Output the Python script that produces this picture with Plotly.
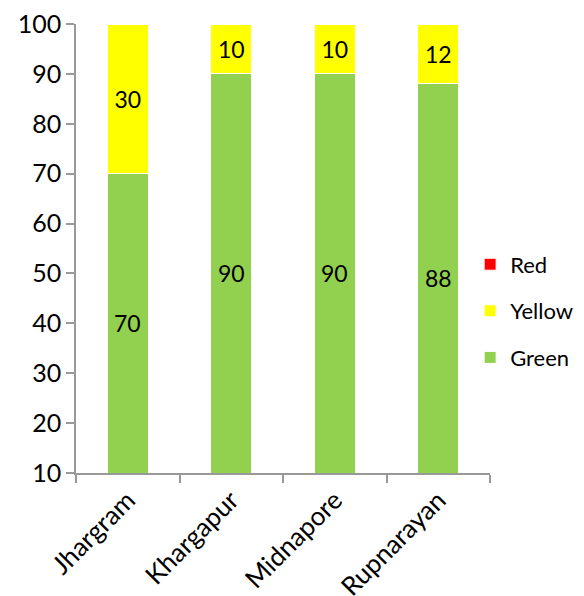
import plotly.graph_objects as go

categories = ["Jhargram", "Khargapur", "Midnapore", "Rupnarayan"]
green = [70, 90, 90, 88]
yellow = [30, 10, 10, 12]
red = [0, 0, 0, 0]
yticks = [10, 20, 30, 40, 50, 60, 70, 80, 90, 100]
y_min, y_max = 10, 100

FONT = "Lato, Carlito, Calibri, sans-serif"

def labels(vals):
    return [str(v) if v > 0 else "" for v in vals]

fig = go.Figure()
for name, vals, color, rank, show_text in [("Green", green, "#92D050", 3, False),
                                           ("Yellow", yellow, "#FFFF00", 2, True),
                                           ("Red", red, "#FF0000", 1, True)]:
    fig.add_trace(go.Bar(
        x=categories, y=vals, name=name, legendgroup=name, legendrank=rank,
        marker=dict(color=color, line=dict(color="white", width=1)),
        text=labels(vals) if show_text else None,
        textposition="inside" if show_text else "none",
        insidetextanchor="middle",
        textangle=0, constraintext="none",
        textfont=dict(size=23, color="black", family=FONT),
    ))

# green labels centred in the visible part of the segment (axis starts at 10)
for c, g in zip(categories, green):
    fig.add_annotation(x=c, y=(max(y_min, 0) + g) / 2, text=str(g), showarrow=False,
                       font=dict(size=23, color="black", family=FONT))

# page body has an 8px margin, so the figure is 8px smaller and offset
fig.update_layout(
    barmode="stack", bargap=0.6,
    width=576, height=588,
    margin=dict(l=68, r=94, t=16, b=123, autoexpand=False),
    paper_bgcolor="white", plot_bgcolor="white",
    font=dict(family=FONT, size=23, color="black"),
    showlegend=True,
    legend=dict(x=0.952, xanchor="left", y=0.361, yanchor="middle",
                traceorder="grouped", tracegroupgap=15,
                font=dict(size=22, family=FONT), itemwidth=30,
                bgcolor="rgba(0,0,0,0)"),
    uniformtext=dict(mode=False),
)
fig.update_yaxes(range=[y_min, y_max], tickvals=yticks, showgrid=False, automargin=False,
                 showline=True, linecolor="#999999", linewidth=1.5,
                 ticks="outside", ticklen=8, tickcolor="#999999", tickwidth=1.5,
                 zeroline=False, tickfont=dict(size=25), ticklabeloverflow="allow")
fig.update_xaxes(showgrid=False, automargin=False, showline=True, linecolor="#999999", linewidth=1.5,
                 ticks="outside", ticklen=8, tickcolor="#999999", tickwidth=1.5,
                 tickson="boundaries", tickangle=-45, tickfont=dict(size=26),
                 ticklabeloverflow="allow")

fig.write_html("out.html")
